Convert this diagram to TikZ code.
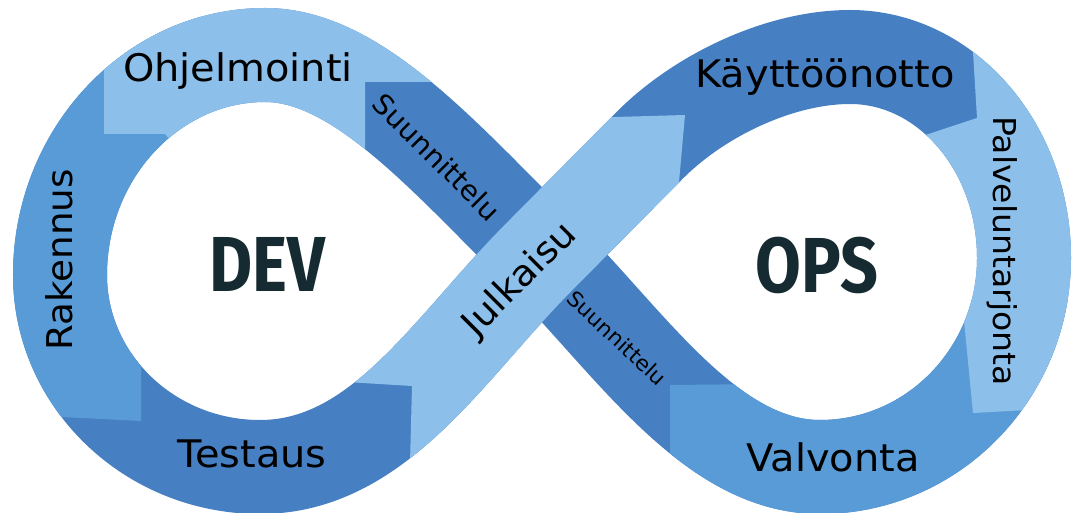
\documentclass[tikz,border=0pt]{standalone}
\usepackage{fontspec}
\usepackage{graphicx}
\setmainfont{DejaVu Sans}[FakeStretch=1.05]
\newfontfamily\headfont{Fira Sans}

\definecolor{lightblue}{HTML}{8CC0EA}
\definecolor{midblue}{HTML}{589BD6}
\definecolor{darkblue}{HTML}{4680C3}
\definecolor{headcol}{HTML}{152A31}

\tikzset{
  band/.style={line width=94pt, line cap=butt},
  infloop/.style={insert path={(265,55) .. controls (152,55) and (60,154) .. (60,275)
      .. controls (60,381) and (150,467) .. (260,467)
      .. controls (380,467) and (450,346) .. (540,256) -- (650,145)
      .. controls (700,95) and (780,57) .. (850,57)
      .. controls (946,57) and (1024,147) .. (1024,258)
      .. controls (1024,373) and (933,467) .. (820,467)
      .. controls (710,467) and (630,342) .. (540,252)
      .. controls (440,152) and (355,55) .. cycle}},
  julpath/.style={insert path={(260,467) .. controls (380,467) and (450,346) .. (540,256) -- (650,145)
      .. controls (700,95) and (780,57) .. (850,57)}},
  lbl/.style={inner sep=0pt, text=black, font=\fontsize{38}{41}\selectfont},
  head/.style={inner sep=0pt, text=headcol, font=\headfont\bfseries\fontsize{78}{80}\selectfont}
}

\begin{document}
\begin{tikzpicture}[x=1pt,y=-1pt]
\useasboundingbox (0,0) rectangle (1075,513);

\draw[band, darkblue, infloop];
\begin{scope}
  \clip (-30,-30) -- (200,-30) -- (200,300) -- (141,300) -- (141,421) -- (62,417) -- (-30,413) -- cycle;
  \draw[band, midblue, infloop];
\end{scope}
\begin{scope}
  \clip (104,134) -- (104,-30) -- (470,-30) -- (470,82) -- (365,82) -- (365,230) -- (250,230) -- (165,134) -- cycle;
  \draw[band, lightblue, infloop];
\end{scope}
\begin{scope}
  \clip (670,385) -- (670,540) -- (1100,540) -- (1100,300) -- (770,300) -- (770,384) -- cycle;
  \draw[band, midblue, infloop];
\end{scope}
\begin{scope}
  \clip (880,150) -- (977,118) -- (968,-30) -- (1100,-30) -- (1100,406) -- (973,413) -- (962,300) -- cycle;
  \draw[band, lightblue, infloop];
\end{scope}
\begin{scope}
  \clip (330,381) -- (412,386) -- (408,540) -- (679,540) -- (679,182) -- (685,115) -- (580,118) -- cycle;
  \draw[band, lightblue, julpath];
\end{scope}

\node[lbl, anchor=base] (ohj) at (238,82) {Ohjelmointi};
\node[lbl, anchor=base] (kay) at (825,88) {Käyttöönotto};
\node[lbl, anchor=base] (tes) at (252,467) {Testaus};
\node[lbl, anchor=base] (val) at (833,471) {Valvonta};
\node[lbl, anchor=base, rotate=90, font=\fontsize{35.5}{38}\selectfont] (rak) at (72,260) {Rakennus};
\node[lbl, anchor=base, rotate=-90, font=\fontsize{31.5}{34}\selectfont] (pal) at (993,251) {Palveluntarjonta};
\node[lbl, rotate=45, font=\fontsize{36}{39}\selectfont] (jul) at (520,280) {Julkaisu};
\node[lbl, rotate=-45, font=\fontsize{27.5}{30}\selectfont] (suuA) at (437,157) {Suunnittelu};
\node[lbl, rotate=-43, font=\fontsize{21}{24}\selectfont] (suuB) at (617,338) {Suunnittelu};
\node[head] (dev) at (267,264) {\scalebox{0.85}[1]{DEV}};
\node[head] (ops) at (817,265) {\scalebox{0.85}[1]{OPS}};
\end{tikzpicture}
\end{document}
